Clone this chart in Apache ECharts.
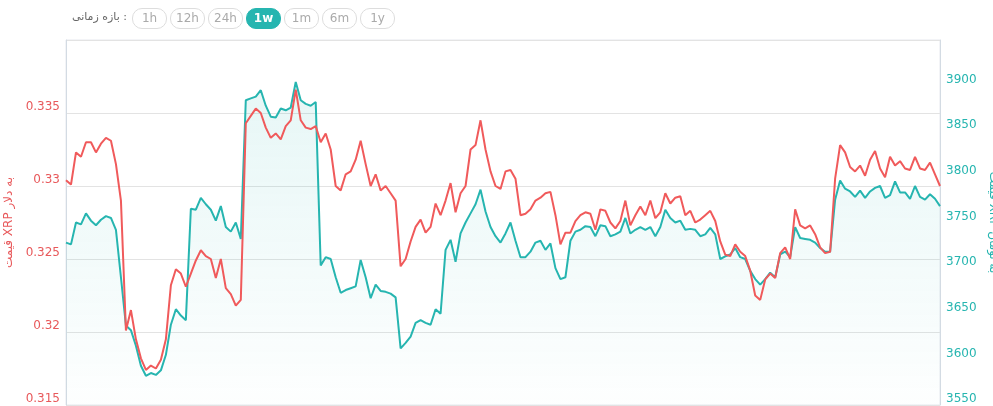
<!DOCTYPE html>
<html>
<head>
<meta charset="utf-8">
<script src="https://cdn.jsdelivr.net/npm/echarts@6/dist/echarts.min.js"></script>
<style>
    body { margin: 0; background: #fff; font-family: "DejaVu Sans", "Noto Sans", sans-serif; }
    #wrap { position: relative; width: 993px; height: 406px; }
    #chart { position: absolute; left: 0; top: 0; width: 993px; height: 406px; }
    #lbl { position: absolute; right: 866px; top: 10px; z-index: 2; font-size: 11px; color: #666; white-space: nowrap; }
    #range { position: absolute; left: 132px; top: 8px; z-index: 2; font-size: 12px; }
    #range span.btn { display: inline-block; width: 33px; height: 19px; line-height: 19px; text-align: center;
        border: 1px solid #ddd; border-radius: 10px; color: #aaa; font-size: 12px; margin-right: 3px; vertical-align: middle; }
    #range span.on { background: #26b5b0; border-color: #26b5b0; color: #fff; font-weight: bold; }
</style>
</head>
<body>
<div id="wrap">
    <div id="lbl" dir="ltr"><bdi>بازه زمانی</bdi> :</div>
    <div id="range"></div>
    <div id="chart"></div>
</div>
<script>
var ranges = ['1h', '12h', '24h', '1w', '1m', '6m', '1y'];
var activeRange = '1w';

// قیمت به دلار
var usdList = [
    0.3304,0.3301,0.3323,0.3320,0.3330,0.3330,0.3323,0.3329,0.3333,0.3331,0.3315,0.3290,0.3201,0.3215,0.3195,0.3182,0.3174,0.3177,0.3175,0.3181,
    0.3195,0.3232,0.3243,0.3240,0.3231,0.3240,0.3249,0.3256,0.3252,0.3250,0.3237,0.3250,0.3230,0.3226,0.3218,0.3222,0.3343,0.3348,0.3353,0.3350,
    0.3340,0.3333,0.3336,0.3332,0.3341,0.3345,0.3366,0.3345,0.3340,0.3339,0.3341,0.3330,0.3336,0.3325,0.3300,0.3297,0.3308,0.3310,0.3318,0.3331,
    0.3315,0.3300,0.3308,0.3297,0.3300,0.3295,0.3290,0.3245,0.3250,0.3262,0.3272,0.3277,0.3268,0.3272,0.3288,0.3280,0.3290,0.3302,0.3282,0.3295,
    0.3300,0.3325,0.3328,0.3345,0.3325,0.3310,0.3300,0.3298,0.3310,0.3311,0.3305,0.3280,0.3281,0.3284,0.3290,0.3292,0.3295,0.3296,0.3280,0.3260,
    0.3268,0.3268,0.3276,0.3280,0.3282,0.3281,0.3270,0.3284,0.3283,0.3275,0.3271,0.3276,0.3290,0.3273,0.3280,0.3286,0.3280,0.3290,0.3278,0.3282,
    0.3295,0.3288,0.3292,0.3293,0.3280,0.3283,0.3275,0.3277,0.3280,0.3283,0.3276,0.3262,0.3253,0.3252,0.3260,0.3255,0.3252,0.3242,0.3225,0.3222,
    0.3236,0.3240,0.3237,0.3254,0.3258,0.3250,0.3284,0.3273,0.3271,0.3273,0.3267,0.3258,0.3254,0.3255,0.3305,0.3328,0.3323,0.3313,0.3310,0.3314,
    0.3307,0.3318,0.3324,0.3312,0.3306,0.3320,0.3314,0.3317,0.3312,0.3311,0.3320,0.3312,0.3311,0.3316,0.3308,0.3300
];

// قیمت به تومان
var tomanList = [
    3728,3726,3750,3748,3760,3752,3747,3753,3757,3755,3742,3690,3637,3632,3615,3593,3582,3585,3583,3588,
    3605,3638,3655,3648,3643,3765,3764,3777,3770,3764,3752,3768,3745,3740,3750,3732,3884,3886,3888,3895,
    3878,3866,3865,3875,3873,3876,3904,3884,3880,3878,3882,3703,3712,3710,3690,3673,3676,3678,3680,3709,
    3690,3667,3682,3675,3674,3672,3668,3612,3618,3625,3640,3643,3640,3638,3655,3650,3720,3731,3707,3738,
    3750,3760,3770,3786,3762,3745,3735,3728,3738,3750,3730,3712,3712,3718,3728,3730,3720,3727,3700,3688,
    3690,3730,3740,3742,3746,3745,3735,3747,3746,3735,3737,3740,3755,3738,3742,3745,3742,3745,3735,3745,
    3764,3755,3750,3752,3742,3743,3742,3735,3737,3744,3737,3710,3713,3715,3722,3712,3710,3697,3688,3682,
    3688,3695,3690,3715,3718,3712,3745,3733,3732,3731,3728,3722,3718,3718,3775,3796,3787,3784,3778,3785,
    3777,3784,3788,3790,3777,3780,3795,3783,3783,3776,3790,3778,3775,3781,3776,3768
];

var dateList = usdList.map(function (v, i) { return i; });

var rangeBox = document.getElementById('range');
ranges.forEach(function (r) {
    var s = document.createElement('span');
    s.className = 'btn' + (r === activeRange ? ' on' : '');
    s.textContent = r;
    rangeBox.appendChild(s);
});

var priceChart = echarts.init(document.getElementById('chart'));

priceChart.setOption({
    animation: false,
    textStyle: { fontFamily: 'DejaVu Sans' },
    grid: { left: 66, right: 53, top: 40, bottom: 1, outerBoundsMode: 'none', containLabel: false,
        show: true, borderColor: '#e6e9ee', borderWidth: 1 },
    xAxis: [{
        type: 'category',
        data: dateList,
        boundaryGap: false,
        show: false
    }],
    yAxis: [{
        type: 'value',
        position: 'left',
        min: 0.315,
        max: 0.34,
        interval: 0.005,
        name: 'قیمت XRP به دلار',
        nameLocation: 'middle',
        nameGap: 46,
        nameTextStyle: { color: '#e8595b', fontSize: 12 },
        axisLine: { show: true, lineStyle: { color: '#d3dbe3' } },
        axisTick: { show: false },
        axisLabel: {
            color: '#e8595b', fontSize: 12, verticalAlign: 'bottom', margin: 6,
            formatter: function (v) { return v >= 0.3399 ? '' : String(+v.toFixed(3)); }
        },
        splitLine: { show: true, lineStyle: { color: '#e3e3e3' } }
    }, {
        type: 'value',
        position: 'right',
        min: 3550,
        max: 3950,
        interval: 50,
        name: 'قیمت XRP به تومان',
        nameLocation: 'middle',
        nameGap: 36,
        nameRotate: -90,
        nameTextStyle: { color: '#26b5b0', fontSize: 12 },
        axisLine: { show: true, lineStyle: { color: '#d3dbe3' } },
        axisTick: { show: false },
        axisLabel: {
            color: '#26b5b0', fontSize: 12, verticalAlign: 'bottom', margin: 6,
            formatter: function (v) { return v >= 3950 ? '' : String(v); }
        },
        splitLine: { show: false }
    }],
    series: [{
        name: 'تومان',
        type: 'line',
        yAxisIndex: 1,
        data: tomanList,
        showSymbol: false,
        lineStyle: { color: '#26b5b0', width: 2 },
        itemStyle: { color: '#26b5b0' },
        areaStyle: {
            color: new echarts.graphic.LinearGradient(0, 0, 0, 1, [
                { offset: 0, color: 'rgba(38,181,176,0.16)' },
                { offset: 1, color: 'rgba(38,181,176,0.01)' }
            ])
        }
    }, {
        name: 'دلار',
        type: 'line',
        yAxisIndex: 0,
        data: usdList,
        showSymbol: false,
        lineStyle: { color: '#f05a5b', width: 2 },
        itemStyle: { color: '#f05a5b' }
    }]
});
</script>
</body>
</html>
